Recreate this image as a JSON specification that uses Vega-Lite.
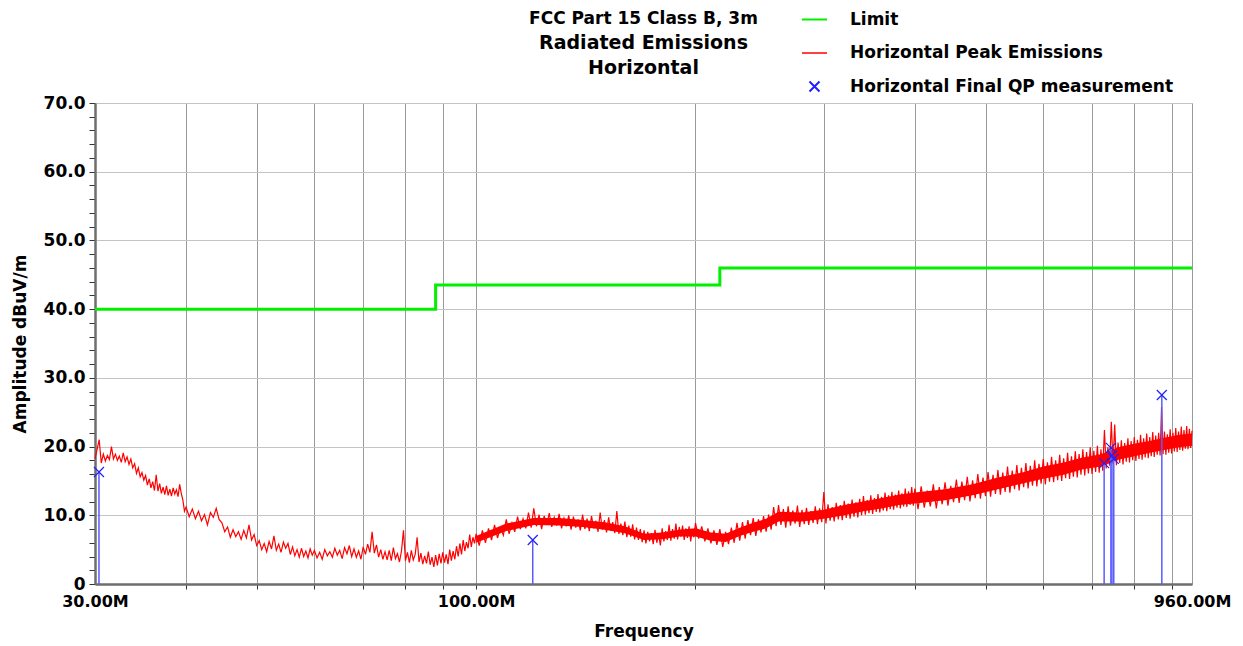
{
"$schema": "https://vega.github.io/schema/vega-lite/v6.json",
"autosize": {"type": "none"},
"width": 1097,
"height": 481,
"padding": {"left": 95, "top": 103, "right": 51, "bottom": 62},
"background": "white",
"config": {"font": "DejaVu Sans", "view": {"stroke": "#999999", "strokeWidth": 1}},
"title": {"text": "FCC Part 15 Class B, 3m", "subtitle": ["Radiated Emissions", "Horizontal"], "anchor": "middle", "frame": "group", "font": "DejaVu Sans", "fontSize": 17, "fontWeight": "bold", "color": "black", "subtitleFont": "DejaVu Sans", "subtitleFontSize": 19, "subtitleFontWeight": "bold", "subtitleColor": "black", "subtitlePadding": 6, "subtitleLineHeight": 25, "offset": -68},
"datasets": {
"limit": [{"f":30,"v":40},{"f":88,"v":43.5},{"f":216,"v":46},{"f":960,"v":46}],
"qp": [
{"f":30.38,"v":16.3,"s":"Horizontal Final QP measurement"},
{"f":119.6,"v":6.4,"s":"Horizontal Final QP measurement"},
{"f":727.3,"v":17.6,"s":"Horizontal Final QP measurement"},
{"f":743,"v":19.8,"s":"Horizontal Final QP measurement"},
{"f":745.5,"v":18.7,"s":"Horizontal Final QP measurement"},
{"f":749.8,"v":18.2,"s":"Horizontal Final QP measurement"},
{"f":872.7,"v":27.5,"s":"Horizontal Final QP measurement"}],
"band": [
{"f":100,"lo":6.0,"hi":7.0},{"f":110,"lo":7.7,"hi":8.8},{"f":120,"lo":8.6,"hi":9.6},{"f":130,"lo":8.5,"hi":9.6},{"f":140,"lo":8.3,"hi":9.3},
{"f":150,"lo":7.9,"hi":9.0},{"f":160,"lo":7.4,"hi":8.4},{"f":170,"lo":6.4,"hi":7.3},{"f":180,"lo":6.5,"hi":7.5},{"f":190,"lo":6.9,"hi":7.9},
{"f":200,"lo":6.9,"hi":8.1},{"f":210,"lo":6.3,"hi":7.5},{"f":220,"lo":6.1,"hi":7.3},{"f":230,"lo":7.0,"hi":8.2},{"f":240,"lo":7.6,"hi":8.9},
{"f":250,"lo":8.1,"hi":9.5},{"f":260,"lo":9.1,"hi":10.5},{"f":280,"lo":9.1,"hi":10.4},{"f":300,"lo":9.5,"hi":10.8},{"f":320,"lo":10.0,"hi":11.5},
{"f":340,"lo":10.6,"hi":12.0},{"f":360,"lo":11.0,"hi":12.5},{"f":380,"lo":11.5,"hi":13.0},{"f":400,"lo":11.7,"hi":13.3},{"f":440,"lo":12.2,"hi":13.8},
{"f":480,"lo":12.9,"hi":14.5},{"f":520,"lo":13.8,"hi":15.5},{"f":560,"lo":14.6,"hi":16.2},{"f":600,"lo":15.3,"hi":17.1},{"f":640,"lo":15.9,"hi":17.7},
{"f":680,"lo":16.7,"hi":18.4},{"f":720,"lo":17.1,"hi":18.9},{"f":760,"lo":18.1,"hi":19.9},{"f":800,"lo":18.6,"hi":20.4},{"f":840,"lo":19.1,"hi":20.8},
{"f":880,"lo":19.5,"hi":21.3},{"f":920,"lo":19.9,"hi":21.7},{"f":960,"lo":20.1,"hi":21.9}],
"peak": [
{"f":30.0,"v":18.2},{"f":30.2,"v":19.6},{"f":30.4,"v":21.0},{"f":30.6,"v":17.6},{"f":30.8,"v":18.9},{"f":31.0,"v":17.9},{"f":31.2,"v":18.7},{"f":31.4,"v":18.1},{"f":31.6,"v":20.0},{"f":31.8,"v":18.2},
{"f":32.0,"v":18.9},{"f":32.2,"v":18.0},{"f":32.4,"v":18.6},{"f":32.6,"v":17.7},{"f":32.8,"v":19.1},{"f":33.0,"v":17.8},{"f":33.2,"v":18.5},{"f":33.4,"v":17.4},{"f":33.6,"v":18.2},{"f":33.8,"v":16.9},
{"f":34.0,"v":17.5},{"f":34.2,"v":16.1},{"f":34.4,"v":16.9},{"f":34.6,"v":15.6},{"f":34.8,"v":16.2},{"f":35.0,"v":15.1},{"f":35.2,"v":15.8},{"f":35.4,"v":14.4},{"f":35.6,"v":15.3},{"f":35.8,"v":14.0},
{"f":36.0,"v":14.9},{"f":36.2,"v":13.6},{"f":36.4,"v":15.9},{"f":36.6,"v":13.5},{"f":36.8,"v":14.6},{"f":37.0,"v":13.2},{"f":37.2,"v":14.1},{"f":37.4,"v":13.0},{"f":37.6,"v":14.3},{"f":37.8,"v":12.9},
{"f":38.0,"v":13.8},{"f":38.2,"v":12.8},{"f":38.4,"v":14.0},{"f":38.6,"v":13.1},{"f":38.8,"v":13.7},{"f":39.0,"v":12.7},{"f":39.2,"v":14.5},{"f":39.4,"v":13.2},{"f":39.6,"v":12.2},{"f":39.8,"v":10.6},
{"f":40.0,"v":11.2},{"f":40.4,"v":9.8},{"f":40.8,"v":10.9},{"f":41.2,"v":9.5},{"f":41.6,"v":10.6},{"f":42.0,"v":9.2},{"f":42.4,"v":10.1},{"f":42.8,"v":8.6},{"f":43.2,"v":10.4},{"f":43.6,"v":9.7},
{"f":44.0,"v":11.0},{"f":44.4,"v":9.4},{"f":44.8,"v":8.9},{"f":45.2,"v":7.6},{"f":45.6,"v":8.3},{"f":46.0,"v":6.8},{"f":46.4,"v":7.9},{"f":46.8,"v":6.9},{"f":47.2,"v":7.6},{"f":47.6,"v":6.5},
{"f":48.0,"v":7.8},{"f":48.4,"v":6.7},{"f":48.8,"v":8.6},{"f":49.2,"v":6.4},{"f":49.6,"v":7.2},{"f":50.0,"v":5.6},{"f":50.4,"v":6.3},{"f":50.8,"v":5.0},{"f":51.2,"v":5.9},{"f":51.6,"v":4.7},
{"f":52.0,"v":6.2},{"f":52.4,"v":5.1},{"f":52.8,"v":7.0},{"f":53.2,"v":4.9},{"f":53.6,"v":5.8},{"f":54.0,"v":4.6},{"f":54.4,"v":6.1},{"f":54.8,"v":5.2},{"f":55.2,"v":5.9},{"f":55.6,"v":4.3},
{"f":56.0,"v":5.4},{"f":56.4,"v":4.1},{"f":56.8,"v":5.0},{"f":57.2,"v":3.9},{"f":57.6,"v":5.2},{"f":58.0,"v":4.0},{"f":58.4,"v":4.8},{"f":58.8,"v":3.8},{"f":59.2,"v":5.1},{"f":59.6,"v":4.2},
{"f":60.0,"v":4.9},{"f":60.5,"v":3.8},{"f":61.0,"v":4.6},{"f":61.5,"v":3.6},{"f":62.0,"v":5.0},{"f":62.5,"v":4.1},{"f":63.0,"v":4.7},{"f":63.5,"v":3.9},{"f":64.0,"v":5.2},{"f":64.5,"v":4.2},
{"f":65.0,"v":4.9},{"f":65.5,"v":3.7},{"f":66.0,"v":5.3},{"f":66.5,"v":4.4},{"f":67.0,"v":5.6},{"f":67.5,"v":4.0},{"f":68.0,"v":5.1},{"f":68.5,"v":3.9},{"f":69.0,"v":4.8},{"f":69.5,"v":3.6},
{"f":70.0,"v":5.4},{"f":70.5,"v":4.3},{"f":71.0,"v":5.8},{"f":71.5,"v":4.6},{"f":72.0,"v":7.6},{"f":72.5,"v":4.5},{"f":73.0,"v":5.7},{"f":73.5,"v":3.9},{"f":74.0,"v":5.0},{"f":74.5,"v":3.6},
{"f":75.0,"v":4.7},{"f":75.5,"v":3.5},{"f":76.0,"v":4.9},{"f":76.5,"v":3.4},{"f":77.0,"v":5.3},{"f":77.5,"v":3.7},{"f":78.0,"v":4.4},{"f":78.5,"v":3.2},{"f":79.0,"v":4.8},{"f":79.5,"v":7.8},
{"f":80.0,"v":3.4},{"f":80.5,"v":4.6},{"f":81.0,"v":3.1},{"f":81.5,"v":4.9},{"f":82.0,"v":3.5},{"f":82.5,"v":4.3},{"f":83.0,"v":6.8},{"f":83.5,"v":3.2},{"f":84.0,"v":4.5},{"f":84.5,"v":2.9},
{"f":85.0,"v":4.1},{"f":85.5,"v":3.0},{"f":86.0,"v":4.7},{"f":86.5,"v":2.8},{"f":87.0,"v":3.9},{"f":87.5,"v":2.5},{"f":88.0,"v":4.2},{"f":88.5,"v":2.7},{"f":89.0,"v":4.4},{"f":89.5,"v":3.0},
{"f":90.0,"v":4.6},{"f":90.5,"v":3.1},{"f":91.0,"v":4.3},{"f":91.5,"v":2.9},{"f":92.0,"v":5.0},{"f":92.5,"v":3.4},{"f":93.0,"v":4.8},{"f":93.5,"v":3.6},{"f":94.0,"v":5.5},{"f":94.5,"v":4.0},
{"f":95.0,"v":5.9},{"f":95.5,"v":4.3},{"f":96.0,"v":6.4},{"f":96.5,"v":4.8},{"f":97.0,"v":6.1},{"f":97.5,"v":5.2},{"f":98.0,"v":7.2},{"f":98.5,"v":5.4},{"f":99.0,"v":6.8},{"f":99.5,"v":5.9},
{"f":100,"v":7.3},{"f":101,"v":5.6},{"f":102,"v":7.8},{"f":103,"v":6.0},{"f":104,"v":8.1},{"f":105,"v":6.4},{"f":106,"v":8.6},{"f":107,"v":6.7},{"f":108,"v":8.2},{"f":109,"v":7.1},
{"f":110,"v":9.4},{"f":111,"v":7.3},{"f":112,"v":8.9},{"f":113,"v":7.6},{"f":114,"v":9.8},{"f":115,"v":8.0},{"f":116,"v":9.5},{"f":117,"v":8.1},{"f":118,"v":10.4},{"f":119,"v":8.2},
{"f":120,"v":11.0},{"f":121,"v":8.4},{"f":122,"v":10.1},{"f":123,"v":8.0},{"f":124,"v":9.9},{"f":125,"v":8.6},{"f":126,"v":10.3},{"f":127,"v":8.3},{"f":128,"v":9.7},{"f":129,"v":8.5},
{"f":130,"v":10.2},{"f":131,"v":8.1},{"f":132,"v":9.6},{"f":133,"v":8.4},{"f":134,"v":10.0},{"f":135,"v":7.9},{"f":136,"v":9.8},{"f":137,"v":8.2},{"f":138,"v":9.4},{"f":139,"v":7.8},
{"f":140,"v":10.1},{"f":141,"v":8.0},{"f":142,"v":9.5},{"f":143,"v":7.7},{"f":144,"v":9.9},{"f":145,"v":8.1},{"f":146,"v":9.2},{"f":147,"v":7.6},{"f":148,"v":10.4},{"f":149,"v":7.9},
{"f":150,"v":9.3},{"f":151,"v":7.5},{"f":152,"v":9.7},{"f":153,"v":7.8},{"f":154,"v":9.0},{"f":155,"v":7.4},{"f":156,"v":10.6},{"f":157,"v":7.3},{"f":158,"v":8.8},{"f":159,"v":7.1},
{"f":160,"v":9.1},{"f":161,"v":6.8},{"f":162,"v":8.5},{"f":163,"v":6.9},{"f":164,"v":8.7},{"f":165,"v":6.5},{"f":166,"v":8.2},{"f":167,"v":6.4},{"f":168,"v":8.0},{"f":169,"v":6.1},
{"f":170,"v":7.8},{"f":171,"v":5.9},{"f":172,"v":7.6},{"f":173,"v":6.2},{"f":174,"v":7.4},{"f":175,"v":5.8},{"f":176,"v":7.9},{"f":177,"v":6.0},{"f":178,"v":7.3},{"f":179,"v":5.6},
{"f":180,"v":8.1},{"f":181,"v":6.2},{"f":182,"v":7.7},{"f":183,"v":6.4},{"f":184,"v":8.6},{"f":185,"v":6.3},{"f":186,"v":8.0},{"f":187,"v":6.6},{"f":188,"v":8.8},{"f":189,"v":6.5},
{"f":190,"v":8.3},{"f":191,"v":6.9},{"f":192,"v":8.5},{"f":193,"v":6.4},{"f":194,"v":8.1},{"f":195,"v":6.7},{"f":196,"v":8.4},{"f":197,"v":6.2},{"f":198,"v":7.9},{"f":199,"v":6.8},
{"f":200,"v":8.9},{"f":202,"v":6.6},{"f":204,"v":8.4},{"f":206,"v":6.2},{"f":208,"v":8.1},{"f":210,"v":5.9},{"f":212,"v":7.8},{"f":214,"v":5.7},{"f":216,"v":8.0},{"f":218,"v":5.4},
{"f":220,"v":7.6},{"f":222,"v":5.8},{"f":224,"v":8.2},{"f":226,"v":6.0},{"f":228,"v":8.9},{"f":230,"v":6.3},{"f":232,"v":9.0},{"f":234,"v":6.6},{"f":236,"v":9.3},{"f":238,"v":7.1},
{"f":240,"v":9.6},{"f":242,"v":7.0},{"f":244,"v":9.4},{"f":246,"v":7.5},{"f":248,"v":9.9},{"f":250,"v":7.6},{"f":252,"v":10.1},{"f":254,"v":7.9},{"f":256,"v":11.2},{"f":258,"v":8.4},
{"f":260,"v":11.5},{"f":262,"v":8.6},{"f":264,"v":10.9},{"f":266,"v":8.2},{"f":268,"v":11.3},{"f":270,"v":8.5},{"f":272,"v":10.7},{"f":274,"v":8.8},{"f":276,"v":11.4},{"f":278,"v":8.3},
{"f":280,"v":10.8},{"f":282,"v":8.7},{"f":284,"v":11.1},{"f":286,"v":8.6},{"f":288,"v":10.6},{"f":290,"v":8.9},{"f":292,"v":11.3},{"f":294,"v":8.7},{"f":296,"v":11.0},{"f":298,"v":9.0},
{"f":300,"v":13.4},{"f":302,"v":8.8},{"f":304,"v":11.6},{"f":306,"v":9.2},{"f":308,"v":11.2},{"f":310,"v":9.1},{"f":312,"v":11.8},{"f":314,"v":9.4},{"f":316,"v":11.5},{"f":318,"v":9.3},
{"f":320,"v":12.1},{"f":322,"v":9.6},{"f":324,"v":11.7},{"f":326,"v":9.5},{"f":328,"v":12.3},{"f":330,"v":9.8},{"f":332,"v":11.9},{"f":334,"v":9.7},{"f":336,"v":12.4},{"f":338,"v":10.0},
{"f":340,"v":12.8},{"f":342,"v":10.1},{"f":344,"v":12.2},{"f":346,"v":10.3},{"f":348,"v":12.9},{"f":350,"v":10.2},{"f":352,"v":12.5},{"f":354,"v":10.5},{"f":356,"v":13.1},{"f":358,"v":10.4},
{"f":360,"v":12.7},{"f":362,"v":10.7},{"f":364,"v":13.3},{"f":366,"v":10.6},{"f":368,"v":12.9},{"f":370,"v":10.9},{"f":372,"v":13.4},{"f":374,"v":10.8},{"f":376,"v":13.0},{"f":378,"v":11.1},
{"f":380,"v":13.6},{"f":382,"v":11.0},{"f":384,"v":13.2},{"f":386,"v":11.3},{"f":388,"v":13.9},{"f":390,"v":11.2},{"f":392,"v":13.5},{"f":394,"v":11.5},{"f":396,"v":14.1},{"f":398,"v":11.4},
{"f":400,"v":13.9},{"f":404,"v":10.9},{"f":408,"v":14.2},{"f":412,"v":11.1},{"f":416,"v":13.6},{"f":420,"v":11.3},{"f":424,"v":14.5},{"f":428,"v":11.0},{"f":432,"v":14.1},{"f":436,"v":11.6},
{"f":440,"v":14.8},{"f":444,"v":11.4},{"f":448,"v":14.3},{"f":452,"v":11.9},{"f":456,"v":15.2},{"f":460,"v":11.8},{"f":464,"v":14.9},{"f":468,"v":12.2},{"f":472,"v":15.6},{"f":476,"v":12.0},
{"f":480,"v":15.1},{"f":484,"v":12.5},{"f":488,"v":16.0},{"f":492,"v":12.4},{"f":496,"v":15.5},{"f":500,"v":12.8},{"f":504,"v":16.3},{"f":508,"v":12.7},{"f":512,"v":15.9},{"f":516,"v":13.1},
{"f":520,"v":16.6},{"f":524,"v":13.0},{"f":528,"v":16.2},{"f":532,"v":13.4},{"f":536,"v":17.1},{"f":540,"v":13.3},{"f":544,"v":16.5},{"f":548,"v":13.8},{"f":552,"v":17.3},{"f":556,"v":13.6},
{"f":560,"v":16.9},{"f":564,"v":14.1},{"f":568,"v":17.6},{"f":572,"v":13.9},{"f":576,"v":17.2},{"f":580,"v":14.3},{"f":584,"v":18.0},{"f":588,"v":14.2},{"f":592,"v":17.5},{"f":596,"v":14.6},
{"f":600,"v":18.2},{"f":604,"v":14.5},{"f":608,"v":17.7},{"f":612,"v":14.9},{"f":616,"v":18.5},{"f":620,"v":14.8},{"f":624,"v":18.0},{"f":628,"v":15.1},{"f":632,"v":18.8},{"f":636,"v":15.0},
{"f":640,"v":18.3},{"f":644,"v":15.4},{"f":648,"v":19.1},{"f":652,"v":15.3},{"f":656,"v":18.6},{"f":660,"v":15.6},{"f":664,"v":19.3},{"f":668,"v":15.5},{"f":672,"v":18.9},{"f":676,"v":15.9},
{"f":680,"v":19.6},{"f":684,"v":15.8},{"f":688,"v":19.2},{"f":692,"v":16.1},{"f":696,"v":19.9},{"f":700,"v":16.0},{"f":704,"v":19.4},{"f":708,"v":16.3},{"f":712,"v":20.1},{"f":716,"v":16.2},
{"f":720,"v":19.6},{"f":724,"v":16.5},{"f":728,"v":22.4},{"f":732,"v":16.8},{"f":736,"v":19.9},{"f":740,"v":17.2},{"f":744,"v":23.6},{"f":748,"v":17.5},{"f":752,"v":23.2},{"f":756,"v":17.3},
{"f":760,"v":20.6},{"f":764,"v":17.6},{"f":768,"v":20.9},{"f":772,"v":17.4},{"f":776,"v":20.5},{"f":780,"v":17.8},{"f":784,"v":21.2},{"f":788,"v":17.7},{"f":792,"v":20.8},{"f":796,"v":18.0},
{"f":800,"v":21.4},{"f":804,"v":17.9},{"f":808,"v":21.0},{"f":812,"v":18.2},{"f":816,"v":21.7},{"f":820,"v":18.1},{"f":824,"v":21.2},{"f":828,"v":18.4},{"f":832,"v":21.9},{"f":836,"v":18.3},
{"f":840,"v":21.4},{"f":844,"v":18.6},{"f":848,"v":22.1},{"f":852,"v":18.5},{"f":856,"v":21.6},{"f":860,"v":18.8},{"f":864,"v":22.0},{"f":868,"v":18.7},{"f":872,"v":25.8},{"f":876,"v":18.9},
{"f":880,"v":22.2},{"f":884,"v":18.8},{"f":888,"v":21.8},{"f":892,"v":19.1},{"f":896,"v":22.5},{"f":900,"v":19.0},{"f":904,"v":22.0},{"f":908,"v":19.3},{"f":912,"v":22.7},{"f":916,"v":19.2},
{"f":920,"v":22.2},{"f":924,"v":19.5},{"f":928,"v":22.9},{"f":932,"v":19.4},{"f":936,"v":22.4},{"f":940,"v":19.7},{"f":944,"v":23.0},{"f":948,"v":19.6},{"f":952,"v":22.6},{"f":956,"v":19.8},{"f":960,"v":22.3}
]
},
"encoding": {
"x": {"field": "f", "type": "quantitative", "scale": {"type": "log", "domain": [30, 960], "nice": false},
  "axis": {"title": "Frequency", "values": [30,40,50,60,70,80,90,100,200,300,400,500,600,700,800,900,960],
    "labelExpr": "datum.value === 30 ? '30.00M' : datum.value === 100 ? '100.00M' : datum.value === 960 ? '960.00M' : ''",
    "labelOverlap": false, "labelFlush": false, "labelBound": false,
    "grid": true, "gridColor": "#9a9a9a", "gridWidth": 1,
    "gridOpacity": {"condition": {"test": "datum.value === 30 || datum.value === 960", "value": 0}, "value": 1},
    "tickOpacity": {"condition": {"test": "datum.value === 30 || datum.value === 960", "value": 0}, "value": 1},
    "domainColor": "#6e6e6e", "domainWidth": 2.5, "tickColor": "#333333", "tickSize": 5, "tickWidth": 1,
    "labelFont": "DejaVu Sans", "labelFontSize": 16, "labelFontWeight": "bold", "labelColor": "black", "labelPadding": 4,
    "titleFont": "DejaVu Sans", "titleFontSize": 17, "titleFontWeight": "bold", "titleColor": "black", "titlePadding": 14}},
"y": {"field": "v", "type": "quantitative", "scale": {"domain": [0, 70], "nice": false, "zero": false},
  "axis": {"title": "Amplitude dBuV/m", "values": [0,2,4,6,8,10,12,14,16,18,20,22,24,26,28,30,32,34,36,38,40,42,44,46,48,50,52,54,56,58,60,62,64,66,68,70],
    "labelExpr": "datum.value % 10 === 0 ? (datum.value === 0 ? '0' : format(datum.value, '.1f')) : ''",
    "labelOverlap": false, "labelFlush": false, "labelBound": false,
    "grid": true, "gridColor": "#c4c4c4", "gridWidth": 1,
    "gridOpacity": {"condition": {"test": "datum.value % 10 === 0", "value": 1}, "value": 0},
    "domainColor": "#6e6e6e", "domainWidth": 2.5, "tickColor": "#333333", "tickSize": 6, "tickWidth": 1,
    "labelFont": "DejaVu Sans", "labelFontSize": 17, "labelFontWeight": "bold", "labelColor": "black", "labelPadding": 4,
    "titleFont": "DejaVu Sans", "titleFontSize": 17, "titleFontWeight": "bold", "titleColor": "black", "titlePadding": 14}}
},
"layer": [
{"data": {"name": "band"}, "mark": {"type": "area", "color": "#ff0000", "opacity": 1}, "encoding": {"y": {"field": "lo", "type": "quantitative"}, "y2": {"field": "hi"}}},
{"data": {"name": "peak"}, "mark": {"type": "line", "color": "#ff0000", "strokeWidth": 1.2}},
{"data": {"name": "limit"}, "mark": {"type": "line", "color": "#00f000", "strokeWidth": 3, "interpolate": "step-after"}},
{"data": {"name": "qp"}, "mark": {"type": "rule", "color": "#5a5aff", "strokeWidth": 1.5}, "encoding": {"y2": {"datum": 0}}},
{"data": {"name": "qp"}, "mark": {"type": "point", "filled": false, "size": 100, "strokeWidth": 1.2, "opacity": 1},
 "encoding": {
  "color": {"field": "s", "type": "nominal",
    "scale": {"domain": ["Limit", "Horizontal Peak Emissions", "Horizontal Final QP measurement"], "range": ["#00f000", "#ff4040", "#2020ff"]},
    "legend": {"title": null, "orient": "none", "legendX": 711, "legendY": -92, "symbolSize": 100, "symbolStrokeWidth": 2, "symbolOpacity": 1,
      "labelFont": "DejaVu Sans", "labelFontSize": 17, "labelFontWeight": "bold", "labelColor": "black", "labelOffset": 27, "rowPadding": 15.5, "padding": 0, "labelLimit": 400}},
  "shape": {"field": "s", "type": "nominal",
    "scale": {"domain": ["Limit", "Horizontal Peak Emissions", "Horizontal Final QP measurement"], "range": ["M-2.5,0L2.5,0", "M-2.5,0L2.5,0", "M-1,-1L1,1M-1,1L1,-1"]},
    "legend": {"title": null, "orient": "none", "legendX": 711, "legendY": -92, "symbolSize": 100, "symbolStrokeWidth": 2, "symbolOpacity": 1,
      "labelFont": "DejaVu Sans", "labelFontSize": 17, "labelFontWeight": "bold", "labelColor": "black", "labelOffset": 27, "rowPadding": 15.5, "padding": 0, "labelLimit": 400}}
 }}
]
}
